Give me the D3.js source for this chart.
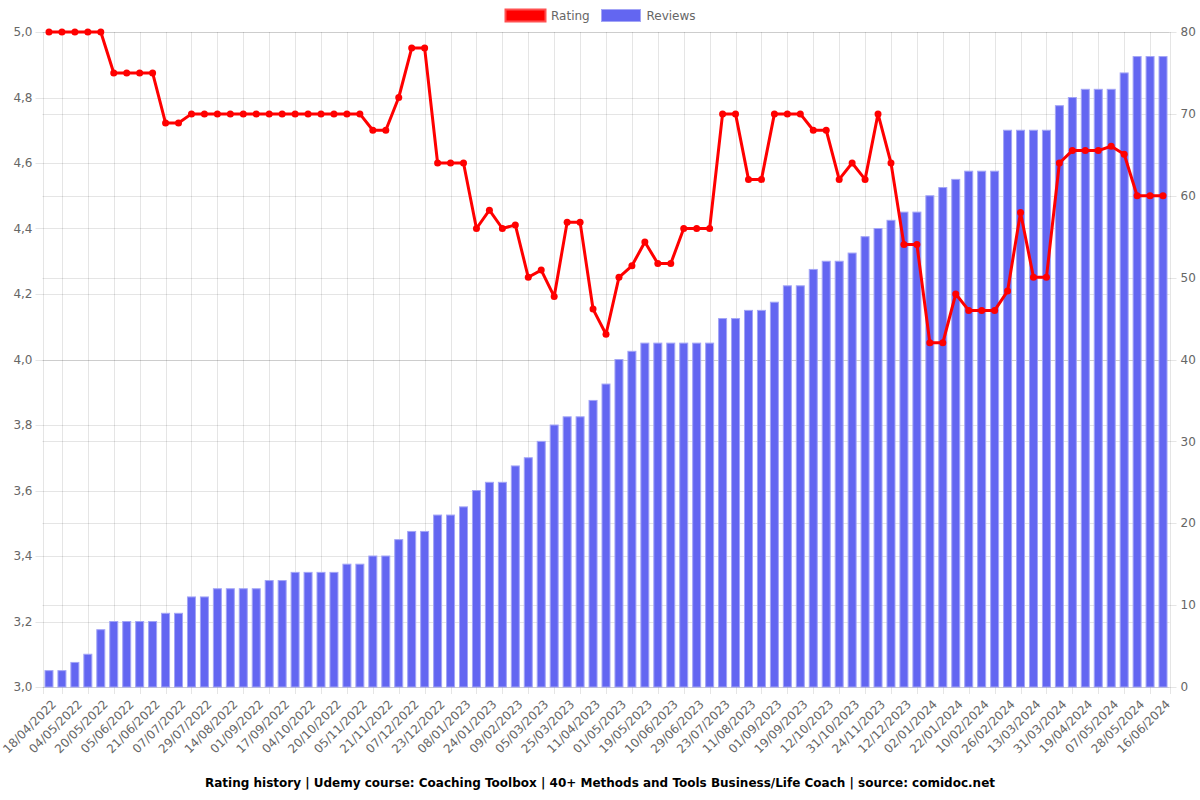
<!DOCTYPE html>
<html><head><meta charset="utf-8">
<script src="https://cdn.jsdelivr.net/npm/d3@7"></script>
<style>body{margin:0;background:#fff;}svg{display:block;font-family:"DejaVu Sans",sans-serif;}</style>
</head><body><svg id="c" width="1200" height="800"></svg>
<script>
const dates = ["18/04/2022","04/05/2022","20/05/2022","05/06/2022","21/06/2022","07/07/2022","29/07/2022","14/08/2022","01/09/2022","17/09/2022","04/10/2022","20/10/2022","05/11/2022","21/11/2022","07/12/2022","23/12/2022","08/01/2023","24/01/2023","09/02/2023","05/03/2023","25/03/2023","11/04/2023","01/05/2023","19/05/2023","10/06/2023","29/06/2023","23/07/2023","11/08/2023","01/09/2023","19/09/2023","12/10/2023","31/10/2023","24/11/2023","12/12/2023","02/01/2024","22/01/2024","10/02/2024","26/02/2024","13/03/2024","31/03/2024","19/04/2024","07/05/2024","28/05/2024","16/06/2024"];
const rating = [5,5,5,5,5,4.875,4.875,4.875,4.875,4.722,4.722,4.75,4.75,4.75,4.75,4.75,4.75,4.75,4.75,4.75,4.75,4.75,4.75,4.75,4.75,4.7,4.7,4.8,4.951,4.951,
4.6,4.6,4.6,4.4,4.456,4.4,4.411,4.251,4.273,4.192,4.419,4.419,4.154,4.077,4.251,4.286,4.359,4.293,4.293,4.4,4.4,4.4,4.75,4.75,4.55,4.55,4.75,4.75,4.75,4.7,
4.7,4.55,4.6,4.55,4.75,4.6,4.351,4.351,4.051,4.051,4.2,4.15,4.15,4.15,4.209,4.449,4.251,4.251,4.6,4.638,4.638,4.638,4.651,4.627,4.5,4.5,4.5];
const reviews = [2,2,3,4,7,8,8,8,8,9,9,11,11,12,12,12,12,13,13,14,14,14,14,15,15,16,16,18,19,19,
21,21,22,24,25,25,27,28,30,32,33,33,35,37,40,41,42,42,42,42,42,42,45,45,46,46,47,49,49,51,
52,52,53,55,56,57,58,58,60,61,62,63,63,63,68,68,68,68,71,72,73,73,73,75,77,77,77];
const leftTicks = [3.0,3.2,3.4,3.6,3.8,4.0,4.2,4.4,4.6,4.8,5.0];
const rightTicks = [0,10,20,30,40,50,60,70,80];
const title = "Rating history | Udemy course: Coaching Toolbox | 40+ Methods and Tools Business/Life Coach | source: comidoc.net";

const L=42.5, R=1169.5, T=32, B=687;
const svg = d3.select("#c");
const n = reviews.length;
const x = d3.scaleBand().domain(d3.range(n)).range([L,R]).padding(0);
const cx = i => x(i) + x.bandwidth()/2;
const yL = d3.scaleLinear().domain([3,5]).range([B,T]);
const yR = d3.scaleLinear().domain([0,80]).range([B,T]);
const grid = "rgba(0,0,0,0.1)";
const fmt = v => v.toFixed(1).replace(".", ",");

const g = svg.append("g");
leftTicks.forEach(v=>{
  g.append("line").attr("x1",L-7).attr("x2",R).attr("y1",Math.round(yL(v))+0.5).attr("y2",Math.round(yL(v))+0.5).attr("stroke",grid);
  g.append("text").attr("x",L-10).attr("y",yL(v)).attr("dy","0.35em").attr("text-anchor","end").attr("font-size",12).attr("fill","#666").text(fmt(v));
});
rightTicks.forEach(v=>{
  g.append("line").attr("x1",L).attr("x2",R+7).attr("y1",Math.round(yR(v))+0.5).attr("y2",Math.round(yR(v))+0.5).attr("stroke",grid);
  g.append("text").attr("x",R+11).attr("y",yR(v)).attr("dy","0.35em").attr("text-anchor","start").attr("font-size",12).attr("fill","#666").text(v);
});
const vx = [L];
for(let i=1;i<n;i+=2) vx.push(cx(i));
vx.push(R);
vx.forEach(px=>{
  g.append("line").attr("x1",Math.round(px)+0.5).attr("x2",Math.round(px)+0.5).attr("y1",T).attr("y2",B+7).attr("stroke",grid);
});
dates.forEach((d,k)=>{
  const i = k*2;
  g.append("text").attr("transform",`translate(${cx(i)+5},${B+15}) rotate(-45)`)
   .attr("text-anchor","end").attr("dy","0.35em").attr("font-size",12).attr("fill","#666").text(d);
});

const bw = 8;
svg.append("g").selectAll("rect").data(reviews).join("rect")
  .attr("x",(d,i)=>cx(i)-bw/2).attr("width",bw)
  .attr("y",d=>yR(d)).attr("height",d=>B-yR(d))
  .attr("fill","#6366f1").attr("stroke","#a3a5f6").attr("stroke-width",1);

const line = d3.line().x((d,i)=>cx(i)).y(d=>yL(d));
svg.append("path").datum(rating).attr("d",line).attr("fill","none").attr("stroke","#ff0000").attr("stroke-width",3).attr("stroke-linejoin","round");
svg.append("g").selectAll("circle").data(rating).join("circle")
  .attr("cx",(d,i)=>cx(i)).attr("cy",d=>yL(d)).attr("r",3.5).attr("fill","#ff0000");

const lg = svg.append("g").attr("font-size",12).attr("fill","#666");
lg.append("rect").attr("x",505.5).attr("y",9.5).attr("width",40).attr("height",12).attr("fill","#ff0000").attr("stroke","#ff5050").attr("stroke-width",2);
lg.append("text").attr("x",551).attr("y",16).attr("dy","0.35em").text("Rating");
lg.append("rect").attr("x",601.5).attr("y",9.5).attr("width",39).attr("height",12).attr("fill","#6366f1").attr("stroke","#a3a5f6").attr("stroke-width",1);
lg.append("text").attr("x",646.5).attr("y",16).attr("dy","0.35em").text("Reviews");

svg.append("text").attr("x",600).attr("y",787).attr("text-anchor","middle").attr("font-size",12).attr("font-weight","bold").attr("fill","#000").text(title);
</script></body></html>
